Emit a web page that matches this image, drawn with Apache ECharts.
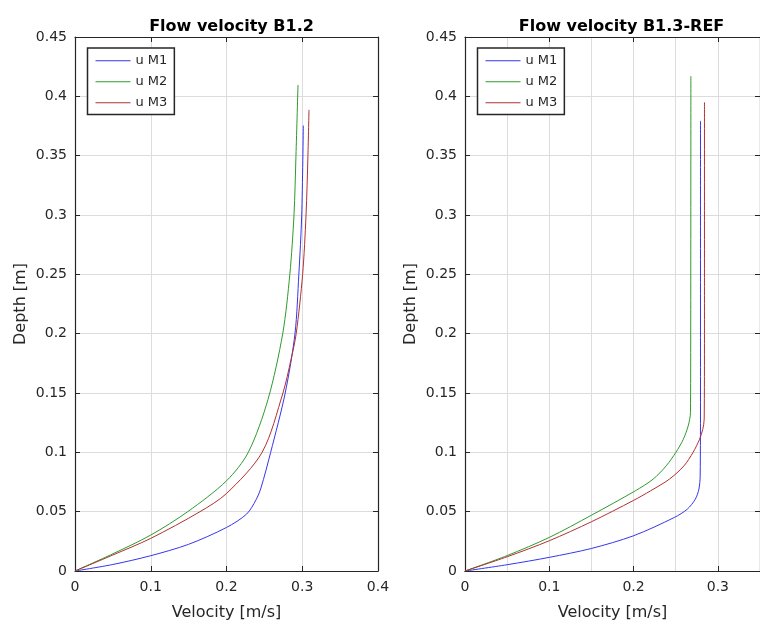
<!DOCTYPE html>
<html>
<head>
<meta charset="utf-8">
<script src="https://cdn.jsdelivr.net/npm/echarts@6/dist/echarts.min.js"></script>
<style>
html,body{margin:0;padding:0;background:#fff;}
#chart{width:760px;height:626px;}
</style>
</head>
<body>
<div id="chart"></div>
<script>
// ---- Data ----
const titles = ['Flow velocity B1.2', 'Flow velocity B1.3-REF'];
const seriesNames = ['u M1', 'u M2', 'u M3'];
const xLabel = 'Velocity [m/s]';
const yLabel = 'Depth [m]';

// Panel B1.2
const b12_m1_vel   = [0, 0.05, 0.1, 0.15, 0.2, 0.2266, 0.239, 0.2455, 0.2583, 0.2775, 0.2904, 0.2955, 0.2993, 0.3014];
const b12_m1_depth = [0, 0.0055, 0.0129, 0.0225, 0.0367, 0.048, 0.06, 0.07, 0.1, 0.15, 0.2, 0.25, 0.3, 0.3754];
const b12_m2_vel   = [0, 0.05, 0.1, 0.1488, 0.2, 0.2288, 0.2548, 0.2742, 0.2836, 0.2891, 0.2917, 0.2944];
const b12_m2_depth = [0, 0.0145, 0.0303, 0.05, 0.076, 0.1, 0.1446, 0.2, 0.25, 0.3, 0.35, 0.4096];
const b12_m3_vel   = [0, 0.05, 0.1, 0.165, 0.2, 0.247, 0.2745, 0.2852, 0.292, 0.3005, 0.305, 0.3075, 0.3089];
const b12_m3_depth = [0, 0.0135, 0.0275, 0.05, 0.0653, 0.1, 0.15, 0.1783, 0.2, 0.25, 0.3, 0.35, 0.3886];

// Panel B1.3-REF
const b13_m1_vel   = [0, 0.05, 0.1, 0.15, 0.2, 0.2483, 0.2637, 0.2733, 0.2775, 0.279, 0.2794, 0.2794];
const b13_m1_depth = [0, 0.0053, 0.0115, 0.019, 0.0297, 0.0451, 0.0521, 0.0606, 0.069, 0.08, 0.15, 0.3793];
const b13_m2_vel   = [0, 0.05, 0.1, 0.15, 0.2021, 0.2232, 0.2387, 0.2502, 0.259, 0.2648, 0.2675, 0.2678, 0.268];
const b13_m2_depth = [0, 0.013, 0.0283, 0.047, 0.0676, 0.0774, 0.0886, 0.1, 0.111, 0.1223, 0.1335, 0.2, 0.417];
const b13_m3_vel   = [0, 0.05, 0.1, 0.15, 0.2, 0.22, 0.2425, 0.2598, 0.2706, 0.2783, 0.2821, 0.2838, 0.2841, 0.2841];
const b13_m3_depth = [0, 0.012, 0.0255, 0.0415, 0.0595, 0.0675, 0.0774, 0.0886, 0.1, 0.111, 0.1194, 0.128, 0.2, 0.395];

// ---- Styling ----
const FONT = 'DejaVu Sans';
const AX = '#262626';
const GRIDC = '#dcdcdc';
const colors = ['#3535ee', '#2e9a2e', '#b23030'];

function pairs(v, d) { return v.map((x, i) => [x, d[i]]); }
const panels = [
  [pairs(b12_m1_vel, b12_m1_depth), pairs(b12_m2_vel, b12_m2_depth), pairs(b12_m3_vel, b12_m3_depth)],
  [pairs(b13_m1_vel, b13_m1_depth), pairs(b13_m2_vel, b13_m2_depth), pairs(b13_m3_vel, b13_m3_depth)]
];

const gridL = [75, 465], gridTop = 37, gridW = 303, gridH = 535;
const xMax = [0.4, 0.35];

const fmt1 = v => (Math.abs(Math.round(v * 10) - v * 10) < 1e-6) ? String(+v.toFixed(1)) : '';
const fmt2 = v => String(+v.toFixed(2));

const lineAx = { show: true, onZero: false, lineStyle: { color: AX, width: 1.2 } };
const tickIn = { show: true, inside: true, length: 5, lineStyle: { color: AX, width: 1 } };
const lbl = { color: AX, fontFamily: FONT, fontSize: 14 };

const xAxes = [], yAxes = [], series = [];
[0, 1].forEach(p => {
  xAxes.push({
    type: 'value', gridIndex: p, position: 'bottom', min: 0, max: xMax[p],
    interval: p === 0 ? 0.1 : 0.05,
    axisLine: lineAx,
    axisTick: p === 0 ? tickIn : { show: false },
    axisLabel: Object.assign({ margin: 9, formatter: fmt1, showMaxLabel: p === 0 }, lbl),
    splitLine: { show: true, lineStyle: { color: GRIDC, width: 1 } },
    name: xLabel, nameLocation: 'middle', nameGap: 34,
    nameTextStyle: { color: AX, fontFamily: FONT, fontSize: 16 }
  });
  if (p === 1) {
    xAxes.push({
      type: 'value', gridIndex: p, position: 'bottom', min: 0, max: xMax[p], interval: 0.1,
      axisLine: lineAx, axisTick: tickIn, axisLabel: { show: false }, splitLine: { show: false }
    });
  }
  xAxes.push({
    type: 'value', gridIndex: p, position: 'top', min: 0, max: xMax[p], interval: 0.1,
    axisLine: lineAx, axisTick: tickIn, axisLabel: { show: false }, splitLine: { show: false }
  });
  yAxes.push({
    type: 'value', gridIndex: p, position: 'left', min: 0, max: 0.45, interval: 0.05,
    axisLine: lineAx, axisTick: tickIn,
    axisLabel: Object.assign({ margin: 8, formatter: fmt2 }, lbl),
    splitLine: { show: true, lineStyle: { color: GRIDC, width: 1 } },
    name: yLabel, nameLocation: 'middle', nameGap: 46,
    nameTextStyle: { color: AX, fontFamily: FONT, fontSize: 16 }
  });
  yAxes.push({
    type: 'value', gridIndex: p, position: 'right', min: 0, max: 0.45, interval: 0.05,
    axisLine: lineAx, axisTick: tickIn, axisLabel: { show: false }, splitLine: { show: false }
  });
});

const xIdx = [0, 2];
const yIdx = [0, 2];
[0, 1].forEach(p => {
  panels[p].forEach((data, k) => {
    series.push({
      type: 'line', name: seriesNames[k], xAxisIndex: xIdx[p], yAxisIndex: yIdx[p],
      data: data, showSymbol: false, symbol: 'none',
      smooth: 0.3,
      lineStyle: { color: colors[k], width: 1 }, itemStyle: { color: colors[k] },
      emphasis: { disabled: true }, animation: false
    });
  });
});

const chart = echarts.init(document.getElementById('chart'), null, { renderer: 'canvas' });
chart.setOption({
  backgroundColor: '#fff',
  animation: false,
  textStyle: { fontFamily: FONT },
  title: titles.map((t, p) => ({
    text: t, left: gridL[p] + gridW / 2, top: 14, textAlign: 'center',
    textStyle: { color: '#000', fontFamily: FONT, fontSize: 16, fontWeight: 'bold' }
  })),
  legend: [0, 1].map(p => ({
    data: seriesNames.map((n, k) => ({ name: n, itemStyle: { color: colors[k] } })),
    orient: 'vertical', icon: 'rect',
    left: gridL[p] + 12.5, top: 48,
    itemWidth: 35, itemHeight: 1.2, itemGap: 5.5,
    padding: [5, 7, 4, 8],
    backgroundColor: '#fff', borderColor: AX, borderWidth: 1.5, borderRadius: 0,
    textStyle: { color: AX, fontFamily: FONT, fontSize: 13, lineHeight: 15.5 },
    selectedMode: false
  })),
  grid: [0, 1].map(p => ({ left: gridL[p], top: gridTop, width: gridW, height: gridH, containLabel: false })),
  xAxis: xAxes,
  yAxis: yAxes,
  series: series
});
</script>
</body>
</html>
